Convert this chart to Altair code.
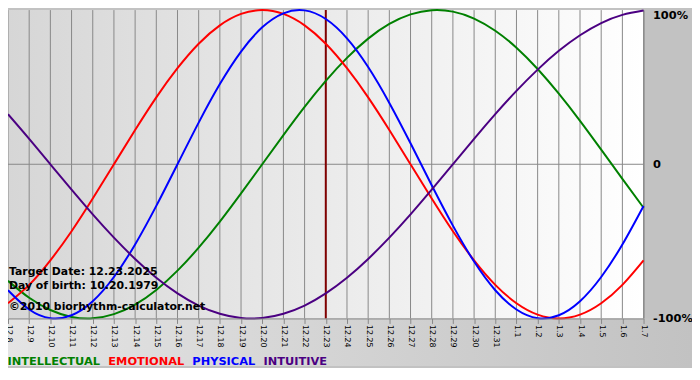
import altair as alt
import pandas as pd

dates = ["12.8", "12.9", "12.10", "12.11", "12.12", "12.13", "12.14", "12.15", "12.16",
         "12.17", "12.18", "12.19", "12.20", "12.21", "12.22", "12.23", "12.24", "12.25",
         "12.26", "12.27", "12.28", "12.29", "12.30", "12.31", "1.1", "1.2", "1.3", "1.4",
         "1.5", "1.6", "1.7"]

intellectual = [-0.756, -0.866, -0.945, -0.990, -0.999, -0.972, -0.910, -0.815, -0.690, -0.541,
                -0.372, -0.189, 0.0, 0.189, 0.372, 0.541, 0.690, 0.815, 0.910, 0.972, 0.999,
                0.990, 0.945, 0.866, 0.756, 0.618, 0.458, 0.282, 0.095, -0.095, -0.282]
emotional = [-0.901, -0.782, -0.623, -0.434, -0.222, 0.0, 0.222, 0.434, 0.623, 0.782, 0.901,
             0.975, 1.0, 0.975, 0.901, 0.782, 0.623, 0.434, 0.222, 0.0, -0.222, -0.434, -0.623,
             -0.782, -0.901, -0.975, -1.0, -0.975, -0.901, -0.782, -0.623]
physical = [-0.817, -0.942, -0.998, -0.979, -0.888, -0.731, -0.520, -0.270, 0.0, 0.270, 0.520,
            0.731, 0.888, 0.979, 0.998, 0.942, 0.817, 0.631, 0.398, 0.136, -0.136, -0.398,
            -0.631, -0.817, -0.942, -0.998, -0.979, -0.888, -0.731, -0.520, -0.270]
intuitive = [0.325, 0.165, 0.0, -0.165, -0.325, -0.476, -0.614, -0.736, -0.837, -0.916, -0.969,
             -0.997, -0.997, -0.969, -0.916, -0.837, -0.736, -0.614, -0.476, -0.325, -0.165, 0.0,
             0.165, 0.325, 0.476, 0.614, 0.736, 0.837, 0.916, 0.969, 0.997]

series_names = ["INTELLECTUAL", "EMOTIONAL", "PHYSICAL", "INTUITIVE"]
series_colors = ["#008000", "#ff0000", "#0000ff", "#4b0082"]

target_date = "12.23"
info_lines = ["Target Date: 12.23.2025", "Day of birth: 10.20.1979", "\u00a92010 biorhythm-calculator.net"]

y_ticks = [-1, 0, 1]
y_labels = ["-100%", "0", "100%"]

rows = []
for name, vals in zip(series_names, [intellectual, emotional, physical, intuitive]):
    for i, (d, v) in enumerate(zip(dates, vals)):
        rows.append({"date": d, "idx": i, "series": name, "value": v})
df = pd.DataFrame(rows)

label_expr = " : ".join(
    f"datum.value == {t} ? '{l}'" for t, l in zip(y_ticks[:-1], y_labels[:-1])
) + f" : '{y_labels[-1]}'"

W, H = 643, 312
PAD_R, PAD_B = 49, 48
FONT = "DejaVu Sans"
GRID = "#888888"

x_scale = alt.Scale(type="point", padding=0, domain=dates)
y_scale = alt.Scale(domain=[-1, 1], nice=False, zero=False)

# decorative backgrounds
bottom_bg = alt.Chart(pd.DataFrame({"k": [0]})).mark_rect(
    fill=alt.LinearGradient(
        gradient="linear", x1=0, x2=1, y1=0, y2=0,
        stops=[alt.GradientStop(offset=0, color="#e4e4e4"),
               alt.GradientStop(offset=1, color="#c2c2c2")],
    )
).encode(x=alt.value(0), x2=alt.value(W + PAD_R), y=alt.value(H), y2=alt.value(H + PAD_B))

bg = alt.Chart(pd.DataFrame({"k": [0]})).mark_rect(
    fill=alt.LinearGradient(
        gradient="linear", x1=0, x2=1, y1=0, y2=0,
        stops=[alt.GradientStop(offset=0, color="#d6d6d6"),
               alt.GradientStop(offset=1, color="#ffffff")],
    )
).encode(x=alt.value(0), x2=alt.value(W), y=alt.value(0), y2=alt.value(H))

vgrid = alt.Chart(pd.DataFrame({"date": dates})).mark_rule(color=GRID, strokeWidth=1).encode(
    x=alt.X("date:O", sort=dates, scale=x_scale)
)
hgrid = alt.Chart(pd.DataFrame({"v": [0]})).mark_rule(color=GRID, strokeWidth=1).encode(
    y=alt.Y("v:Q", scale=y_scale)
)

x_enc = alt.X(
    "date:O", sort=dates, scale=x_scale,
    axis=alt.Axis(
        title=None, labelAngle=90, labelAlign="left", labelBaseline="middle",
        labelFont=FONT, labelFontSize=8, labelColor="black",
        labelPadding=1, tickSize=5, tickColor=GRID, domainColor=GRID,
        grid=False, labelOverlap=False, zindex=1,
    ),
)

lines = alt.Chart(df).mark_line(strokeWidth=2, interpolate="natural").encode(
    x=x_enc,
    y=alt.Y(
        "value:Q", scale=y_scale,
        axis=alt.Axis(
            title=None, orient="right", values=y_ticks, labelExpr=label_expr,
            grid=False, ticks=False, domain=False, zindex=1,
            labelFont=FONT, labelFontWeight="bold", labelFontSize=11.5, labelColor="black",
            labelPadding=9,
            labelBaseline={"condition": {"test": "datum.value == 1", "value": "top"}, "value": "middle"},
        ),
    ),
    color=alt.Color(
        "series:N",
        scale=alt.Scale(domain=series_names, range=series_colors),
        legend=alt.Legend(
            title=None, orient="none", legendX=-1, legendY=350, direction="horizontal",
            columns=4, symbolSize=0, symbolStrokeWidth=0, symbolOpacity=0,
            labelOffset=alt.ExprRef("-11"),
            columnPadding=7, padding=0, labelFont=FONT, labelFontWeight="bold",
            labelFontSize=11.5, labelColor=alt.ExprRef("scale('color', datum.value)"),
        ),
    ),
    order=alt.Order("idx:Q"),
)

rule = alt.Chart(pd.DataFrame({"date": [target_date]})).mark_rule(
    color="#800000", strokeWidth=2
).encode(x=alt.X("date:O", sort=dates, scale=x_scale))

text_layers = []
for line, yy in zip(info_lines, [268.5, 282, 303]):
    text_layers.append(
        alt.Chart(pd.DataFrame({"t": [line]})).mark_text(
            align="left", baseline="alphabetic", font=FONT, fontWeight="bold",
            fontSize=11, color="black",
        ).encode(text="t:N", x=alt.value(1), y=alt.value(yy))
    )

chart = alt.layer(bottom_bg, bg, vgrid, hgrid, rule, lines, *text_layers).properties(
    width=W, height=H,
    autosize=alt.AutoSizeParams(type="none"),
    padding={"left": 0, "top": 0, "right": PAD_R, "bottom": PAD_B},
    background="#c2c2c2",
).configure_view(
    stroke=GRID,
)

chart.save("out.html", embed_options={"renderer": "svg", "actions": False})
